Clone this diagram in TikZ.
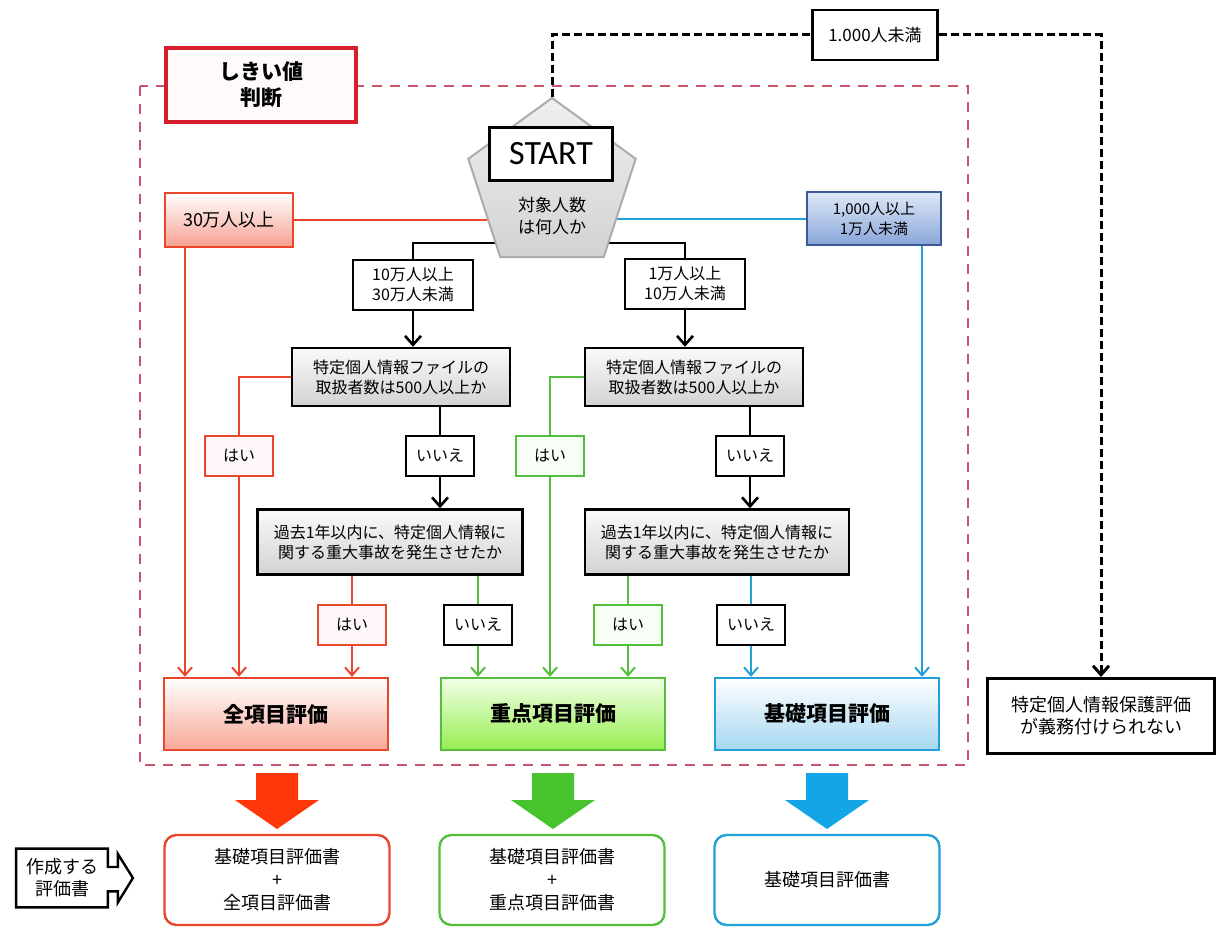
\documentclass[tikz,border=0pt]{standalone}
\usepackage{fontspec}
\setmainfont{Noto Sans CJK JP}
\newfontfamily\startfont{Carlito}
\usepackage{xcolor}
\usetikzlibrary{arrows.meta,shapes.geometric,backgrounds,calc}

\definecolor{evred}{RGB}{232,70,45}
\definecolor{evgreen}{RGB}{85,190,60}
\definecolor{evblue}{RGB}{35,160,215}
\definecolor{zonered}{RGB}{200,85,105}
\definecolor{judgered}{RGB}{215,30,45}
\definecolor{fullbot}{RGB}{248,168,152}
\definecolor{focustop}{RGB}{242,255,232}
\definecolor{focusbot}{RGB}{150,238,80}
\definecolor{basicbot}{RGB}{165,215,240}
\definecolor{rangered}{RGB}{246,160,145}
\definecolor{rangetop}{RGB}{222,232,246}
\definecolor{rangebot}{RGB}{135,165,218}
\definecolor{rangeblue}{RGB}{60,90,150}
\definecolor{arred}{RGB}{255,55,10}
\definecolor{argreen}{RGB}{70,195,45}
\definecolor{arblue}{RGB}{20,165,230}

\tikzset{
  txt/.style={font=\fontsize{8pt}{10pt}\selectfont},
  wh/.style 2 args={minimum width=#1*0.5pt, minimum height=#2*0.5pt},
  box/.style={draw, rectangle, align=center, inner sep=0pt, line width=1pt, fill=white, txt},
  graybox/.style={box, line width=1.2pt, top color=gray!4, bottom color=gray!35},
  yesred/.style={box, draw=evred, fill=red!3, wh={68}{40}},
  yesgreen/.style={box, draw=evgreen, fill=green!3, wh={68}{40}},
  nobox/.style={box, line width=1.2pt, wh={68}{40}},
  evalbox/.style={box, line width=1.2pt, wh={224}{72}, font=\bfseries\fontsize{10.5pt}{12pt}\selectfont},
  docbox/.style={box, rounded corners=6pt, line width=1.2pt, wh={225}{90}, font=\fontsize{9pt}{11.5pt}\selectfont},
  redline/.style={draw=evred, line width=1pt},
  greenline/.style={draw=evgreen, line width=1pt},
  blueline/.style={draw=evblue, line width=1pt},
  blackline/.style={line width=1.3pt},
  redarr/.style={redline, -{Straight Barb[length=4pt,width=7pt]}},
  greenarr/.style={greenline, -{Straight Barb[length=4pt,width=7pt]}},
  bluearr/.style={blueline, -{Straight Barb[length=4pt,width=7pt]}},
  blackarr/.style={blackline, -{Straight Barb[length=4.5pt,width=8pt]}},
  blackdash/.style={line width=1.5pt, dash pattern=on 4pt off 2pt},
  zonedash/.style={draw=zonered, line width=1.3pt, dash pattern=on 5pt off 4pt}
}

\newcommand{\bigdown}[2]{%
  \fill[#2, shift={(#1,0)}] (-21,773) -- (21,773) -- (21,800) -- (42,800)
    -- (0,829) -- (-42,800) -- (-21,800) -- cycle;}

\begin{document}
\begin{tikzpicture}[x=0.5pt, y=-0.5pt]
\useasboundingbox (0,0) rectangle (1219,929);

% Draw threshold zone.
\draw[zonedash] (140,86) rectangle (968,765);

% Place top nodes.
\node[box, draw=judgered, line width=1.6pt, fill=red!2, wh={190}{74},
  font=\bfseries\fontsize{10.5pt}{13pt}\selectfont] (judge) at (261,85) {しきい値\\判断};
\node[box, line width=1.3pt, wh={125}{50}, font=\fontsize{8.5pt}{10pt}\selectfont]
  (under) at (875,35) {1.000人未満};
\node[box, line width=1.5pt, wh={227}{75}, font=\fontsize{9pt}{11pt}\selectfont]
  (noeval) at (1101,716) {特定個人情報保護評価\\が義務付けられない};

% Draw start pentagon.
\node[regular polygon, regular polygon sides=5, minimum size=88pt, inner sep=0pt,
  draw=gray!65, line width=1pt, top color=gray!12, bottom color=gray!35] (pent) at (552,186) {};
\node[box, line width=1.8pt, wh={123}{53}, font=\startfont\fontsize{17pt}{17pt}\selectfont]
  (start) at (551,154) {START};
\node[align=center, font=\fontsize{8.5pt}{11pt}\selectfont] (howmany) at (552,216) {対象人数\\は何人か};

% Place range nodes.
\node[box, draw=evred, top color=white, bottom color=rangered, wh={128}{54},
  font=\fontsize{9pt}{11pt}\selectfont] (over30) at (229,220) {30万人以上};
\node[box, draw=rangeblue, top color=rangetop, bottom color=rangebot, wh={134}{53},
  font=\fontsize{7.5pt}{10pt}\selectfont] (r1k) at (874,219) {1,000人以上\\1万人未満};
\node[box, line width=1.2pt, wh={120}{50}] (r10) at (413,285) {10万人以上\\30万人未満};
\node[box, line width=1.2pt, wh={120}{50}] (r1) at (685,284) {1万人以上\\10万人未満};

% Place decision nodes.
\node[graybox, wh={218}{58}] (dec1) at (401,377) {特定個人情報ファイルの\\取扱者数は500人以上か};
\node[graybox, wh={218}{58}] (dec2) at (694,377) {特定個人情報ファイルの\\取扱者数は500人以上か};
\node[graybox, wh={265}{65}] (dec3) at (390,542) {過去1年以内に、特定個人情報に\\関する重大事故を発生させたか};
\node[graybox, wh={264}{65}] (dec4) at (717,542) {過去1年以内に、特定個人情報に\\関する重大事故を発生させたか};

% Place answer nodes.
\node[yesred] (yes1) at (239,456) {はい};
\node[nobox] (no1) at (440,456) {いいえ};
\node[yesgreen] (yes2) at (550,456) {はい};
\node[nobox] (no2) at (750,456) {いいえ};
\node[yesred] (yes3) at (352,625) {はい};
\node[nobox] (no3) at (478,625) {いいえ};
\node[yesgreen] (yes4) at (628,625) {はい};
\node[nobox] (no4) at (751,625) {いいえ};

% Place evaluation nodes.
\node[evalbox, draw=evred, top color=white, bottom color=fullbot] (full) at (276,714) {全項目評価};
\node[evalbox, draw=evgreen, top color=focustop, bottom color=focusbot] (focus) at (553,714) {重点項目評価};
\node[evalbox, draw=evblue, top color=white, bottom color=basicbot] (basic) at (827,714) {基礎項目評価};

% Place document nodes.
\node[docbox, draw=evred] (doc1) at (277,880) {基礎項目評価書\\+\\全項目評価書};
\node[docbox, draw=evgreen] (doc2) at (552,880) {基礎項目評価書\\+\\重点項目評価書};
\node[docbox, draw=evblue] (doc3) at (827,880) {基礎項目評価書};
\node[align=center, inner sep=0pt, wh={91}{58}, font=\fontsize{9pt}{11pt}\selectfont]
  (make) at (62,878) {作成する\\評価書};
\draw[line width=1.2pt] (make.north east) -- (make.north west) -- (make.south west)
  -- (make.south east) -- ++(0,-16) -- ++(10,0) -- ++(0,11) -- ($(make.east)+(25,0)$)
  -- ++(-15,-24) -- ++(0,13) -- ++(-10,0) -- cycle;

% Draw block arrows.
\bigdown{277}{arred}
\bigdown{553}{argreen}
\bigdown{827}{arblue}

% Column coordinates.
\coordinate (split) at (552,243);
\coordinate (colA) at (185,0);
\coordinate (colB) at (922,0);

% Draw connectors behind the pentagon.
\begin{pgfonlayer}{background}
\draw[redline] (pent.center |- over30.east) -- (over30.east);
\draw[blueline] (pent.center |- r1k.west) -- (r1k.west);
\draw[blackline] (split) -| (r10.north);
\draw[blackline] (split) -| (r1.north);
\end{pgfonlayer}

% Draw outer branches.
\draw[redarr] (colA |- over30.south) -- (colA |- full.north);
\draw[bluearr] (colB |- r1k.south) -- (colB |- basic.north);
\draw[blackdash] (pent.corner 1) |- (under.west);
\draw[blackdash, -{Straight Barb[length=4.5pt,width=8pt]}] (under.east) -| (noeval.north);

% Draw left branch.
\draw[blackarr] (r10.south) -- (r10.south |- dec1.north);
\draw[redline] (dec1.west) -| (yes1.north);
\draw[redarr] (yes1.south) -- (yes1.south |- full.north);
\draw[blackline] (no1.north |- dec1.south) -- (no1.north);
\draw[blackarr] (no1.south) -- (no1.south |- dec3.north);
\draw[redline] (yes3.north |- dec3.south) -- (yes3.north);
\draw[redarr] (yes3.south) -- (yes3.south |- full.north);
\draw[greenline] (no3.north |- dec3.south) -- (no3.north);
\draw[greenarr] (no3.south) -- (no3.south |- focus.north);

% Draw right branch.
\draw[blackarr] (r1.south) -- (r1.south |- dec2.north);
\draw[greenline] (dec2.west) -| (yes2.north);
\draw[greenarr] (yes2.south) -- (yes2.south |- focus.north);
\draw[blackline] (no2.north |- dec2.south) -- (no2.north);
\draw[blackarr] (no2.south) -- (no2.south |- dec4.north);
\draw[greenline] (yes4.north |- dec4.south) -- (yes4.north);
\draw[greenarr] (yes4.south) -- (yes4.south |- focus.north);
\draw[blueline] (no4.north |- dec4.south) -- (no4.north);
\draw[bluearr] (no4.south) -- (no4.south |- basic.north);
\end{tikzpicture}
\end{document}
